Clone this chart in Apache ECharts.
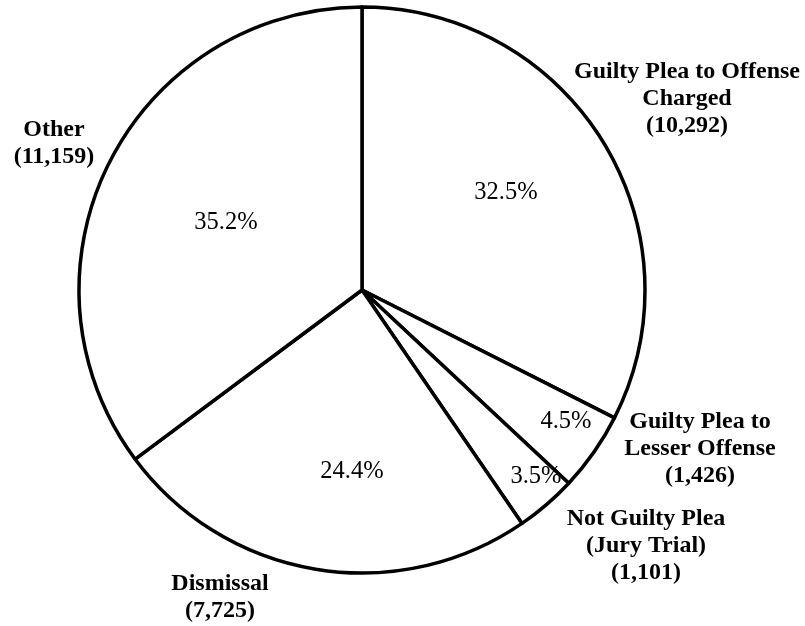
<!DOCTYPE html>
<html>
<head>
<meta charset="utf-8">
<script src="https://cdn.jsdelivr.net/npm/echarts@6/dist/echarts.min.js"></script>
<style>
html,body{margin:0;padding:0;background:#fff;}
#chart{width:805px;height:626px;}
</style>
</head>
<body>
<div id="chart"></div>
<script>
// Data (clockwise from 12 o'clock)
const categories = ['Guilty Plea to Offense Charged', 'Guilty Plea to Lesser Offense', 'Not Guilty Plea (Jury Trial)', 'Dismissal', 'Other'];
const counts = [10292, 1426, 1101, 7725, 11159];
const percentLabels = ['32.5%', '4.5%', '3.5%', '24.4%', '35.2%'];
const outerLabels = [
  'Guilty Plea to Offense\nCharged\n(10,292)',
  'Guilty Plea to\nLesser Offense\n(1,426)',
  'Not Guilty Plea\n(Jury Trial)\n(1,101)',
  'Dismissal\n(7,725)',
  'Other\n(11,159)'
];

// Label layout positions (pixels)
const percentPos = [[506, 193], [566, 422], [536, 477], [352, 472], [226, 223]];
const outerPos = [[687, 99], [700, 449], [646, 546], [220, 597], [54, 143]];

const chart = echarts.init(document.getElementById('chart'), null, {renderer: 'canvas'});
const dataMain = categories.map((c, i) => ({name: c, value: counts[i]}));

chart.setOption({
  backgroundColor: '#ffffff',
  animation: false,
  series: [
    {
      type: 'pie',
      center: [362, 290],
      radius: 283,
      startAngle: 90,
      clockwise: true,
      avoidLabelOverlap: false,
      silent: true,
      itemStyle: {color: '#ffffff', borderColor: '#000000', borderWidth: 3.5, borderJoin: 'round'},
      label: {
        show: true,
        position: 'inside',
        formatter: p => percentLabels[p.dataIndex],
        fontFamily: 'Liberation Serif',
        fontSize: 24.5,
        color: '#000'
      },
      labelLine: {show: false},
      labelLayout: p => ({x: percentPos[p.dataIndex][0], y: percentPos[p.dataIndex][1], align: 'center', verticalAlign: 'middle'}),
      data: dataMain
    },
    {
      type: 'pie',
      center: [362, 290],
      radius: 283,
      startAngle: 90,
      clockwise: true,
      avoidLabelOverlap: false,
      silent: true,
      itemStyle: {color: 'rgba(0,0,0,0)', borderWidth: 0},
      label: {
        show: true,
        position: 'outside',
        formatter: p => outerLabels[p.dataIndex],
        fontFamily: 'Liberation Serif',
        fontWeight: 'bold',
        fontSize: 24,
        lineHeight: 27,
        align: 'center',
        color: '#000'
      },
      labelLine: {show: false},
      labelLayout: p => ({x: outerPos[p.dataIndex][0], y: outerPos[p.dataIndex][1], align: 'center', verticalAlign: 'middle'}),
      data: dataMain
    }
  ]
});
</script>
</body>
</html>
